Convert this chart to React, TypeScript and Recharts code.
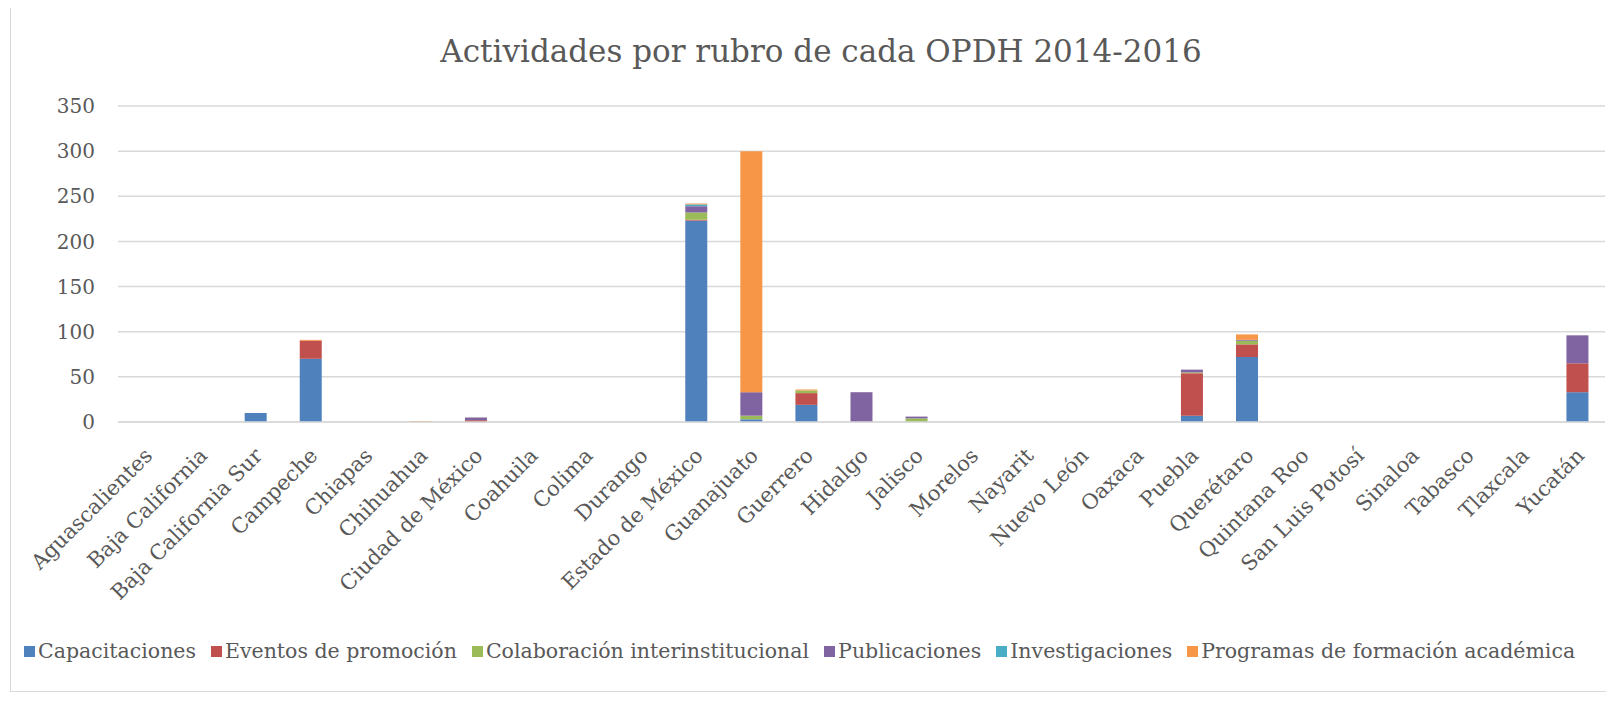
import React from "react";
import { BarChart, Bar, XAxis, YAxis, CartesianGrid } from "recharts";

const states = [
  "Aguascalientes", "Baja California", "Baja California Sur", "Campeche", "Chiapas",
  "Chihuahua", "Ciudad de México", "Coahuila", "Colima", "Durango", "Estado de México",
  "Guanajuato", "Guerrero", "Hidalgo", "Jalisco", "Morelos", "Nayarit", "Nuevo León",
  "Oaxaca", "Puebla", "Querétaro", "Quintana Roo", "San Luis Potosí", "Sinaloa",
  "Tabasco", "Tlaxcala", "Yucatán",
];

const capacitaciones = [0, 0, 10, 70, 0, 0, 0, 0, 0, 0, 223, 3, 19, 0, 0, 0, 0, 0, 0, 7, 72, 0, 0, 0, 0, 0, 33];
const eventos = [0, 0, 0, 20, 0, 0, 2, 0, 0, 0, 1, 0, 13, 0, 0, 0, 0, 0, 0, 47, 14, 0, 0, 0, 0, 0, 32];
const colaboracion = [0, 0, 0, 0, 0, 0, 0, 0, 0, 0, 8, 4, 3, 0, 4, 0, 0, 0, 0, 1, 4, 0, 0, 0, 0, 0, 0];
const publicaciones = [0, 0, 0, 0, 0, 0, 3, 0, 0, 0, 7, 26, 0, 33, 2, 0, 0, 0, 0, 3, 1, 0, 0, 0, 0, 0, 31];
const investigaciones = [0, 0, 0, 0, 0, 0, 0, 0, 0, 0, 2, 0, 0, 0, 0, 0, 0, 0, 0, 0, 0, 0, 0, 0, 0, 0, 0];
const programas = [0, 0, 0, 1, 0, 1, 0, 0, 0, 0, 1, 267, 1, 0, 0, 0, 0, 0, 0, 0, 6, 0, 0, 0, 0, 0, 0];

const yTicks = [0, 50, 100, 150, 200, 250, 300, 350];

const series = [
  { key: "cap", name: "Capacitaciones", color: "#4F81BD", values: capacitaciones },
  { key: "ev", name: "Eventos de promoción", color: "#C0504D", values: eventos },
  { key: "col", name: "Colaboración interinstitucional", color: "#9BBB59", values: colaboracion },
  { key: "pub", name: "Publicaciones", color: "#8064A2", values: publicaciones },
  { key: "inv", name: "Investigaciones", color: "#4BACC6", values: investigaciones },
  { key: "prog", name: "Programas de formación académica", color: "#F79646", values: programas },
];

const data = states.map((s, i) => {
  const row: Record<string, string | number> = { state: s };
  series.forEach((se) => (row[se.key] = se.values[i]));
  return row;
});

const FONT = "'DejaVu Serif', serif";
const TEXT = "#595959";

// rotated category labels, right end anchored near the tick
const XTick = (props: any) => {
  const { x, y, payload } = props;
  const ax = x + 8;
  const ay = y + 33;
  return (
    <text
      x={ax}
      y={ay}
      transform={`rotate(-45, ${ax}, ${ay})`}
      textAnchor="end"
      fill={TEXT}
      fontSize={21}
      fontFamily={FONT}
    >
      {payload.value}
    </text>
  );
};

export default function App() {
  return (
    <div
      style={{
        position: "relative",
        width: 1600,
        height: 690,
        marginLeft: 2,
        marginTop: -6,
        border: "1px solid #d9d9d9",
        boxSizing: "border-box",
        background: "#fff",
      }}
    >
      <div
        style={{
          position: "absolute",
          top: 30,
          left: 0,
          width: 1620,
          textAlign: "center",
          fontFamily: FONT,
          fontSize: 31,
          color: TEXT,
        }}
      >
        Actividades por rubro de cada OPDH 2014-2016
      </div>
      <BarChart
        width={1598}
        height={688}
        data={data}
        margin={{ top: 103, right: 4, bottom: 0, left: 0 }}
        barCategoryGap="30%"
      >
        <CartesianGrid vertical={false} stroke="#d9d9d9" strokeWidth={1.5} />
        <XAxis
          dataKey="state"
          interval={0}
          tickLine={false}
          tickSize={0}
          axisLine={{ stroke: "#d9d9d9", strokeWidth: 1.5 }}
          height={269}
          tick={<XTick />}
        />
        <YAxis
          width={107}
          domain={[0, 350]}
          ticks={yTicks}
          axisLine={false}
          tickLine={false}
          tickMargin={17}
          tick={{ fill: TEXT, fontSize: 20, fontFamily: FONT }}
        />
        {series.map((se) => (
          <Bar
            key={se.key}
            dataKey={se.key}
            name={se.name}
            stackId="a"
            fill={se.color}
            isAnimationActive={false}
          />
        ))}
      </BarChart>
      <div
        style={{
          position: "absolute",
          top: 636,
          left: 13,
          display: "flex",
          alignItems: "center",
          gap: 15,
          fontFamily: FONT,
          fontSize: 20.5,
          color: TEXT,
          whiteSpace: "nowrap",
        }}
      >
        {series.map((se) => (
          <div key={se.key} style={{ display: "flex", alignItems: "center", gap: 3 }}>
            <span style={{ width: 11, height: 11, background: se.color, display: "inline-block" }} />
            <span>{se.name}</span>
          </div>
        ))}
      </div>
    </div>
  );
}
